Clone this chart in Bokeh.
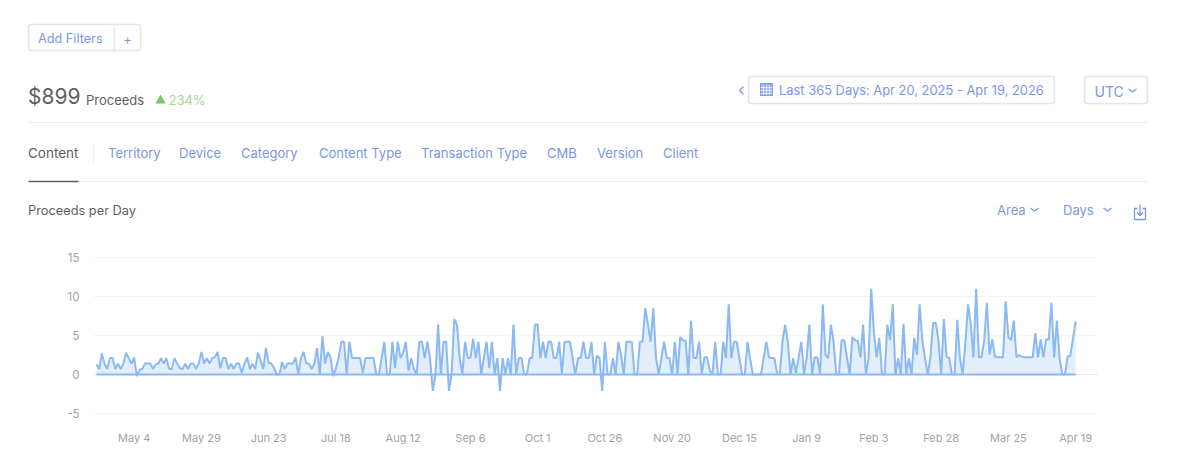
from bokeh.core.properties import value
from bokeh.embed import file_html
from bokeh.models import FixedTicker, LinearAxis, Range1d
from bokeh.plotting import figure
from bokeh.resources import INLINE

# proceeds per day, Apr 20 2025 onwards
spring = [1.3, 0.7, 2.7, 1.4, 0.7, 2.1, 2.1, 0.7, 1.4, 0.7, 1.4, 2.8, 2.1, 1.4, 2.2, -0.2, 0.6, 0.7, 1.4, 1.4,
          1.4, 0.7, 1.3, 1.4, 2.1, 1.4, 2.1, 0.7, 0.7, 2.1, 1.4, 0.8, 0.7, 1.4, 0.7, 1.4, 1.4, 0.7, 1.4, 2.9,
          1.4, 2.1, 1.4, 2.1, 2.2, 2.9, 0.8, 2.1, 2.1, 0.7, 1.4, 0.7, 1.4, 1.4, 0.2, 1.4, 2.2, 0.7, 1.4, 0.7,
          2.8, 1.8, 0.7, 3.4, 1.5, 1.4, 0.8, 0, 0, 1.6, 0.7, 1.4, 1.4, 1.4, 2.2, 0, 2.1, 2.9, 1.4, 1.4,
          0.7, 1.4, 3.4, 0, 4.9]
summer = [1.4, 2.9, 2.2, -0.2, 0.8, 2.1, 4.2, 4.2, 0, 4.2, 2.1, 2.1, 2.1, 2.1, 0.2, 2.1, 2.1, 2.1, 2.1, 0,
          0, 2.1, 4.2, 0, 0, 4.2, 0.8, 4.2, 2.1, 2.8, 4.2, 0.5, 2.1, 0.7, 0, 4.2, 4.2, 2.1, 4.2, 2.1,
          -2.1, -0.2, 6.4, 0, 4.2, 4.2, -2.1, 0, 7.1, 6.4, 2.1, 0, 4.2, 2.1, 2.1, 4.6, 2.1, 4.2, 0, 2.1,
          4.2, 0.8, 4.2, 0, 2.1, -2.1, 2.1, 0, 2.1, 0, 6.4, 0, 2.1, 2.1, 0, 0, 2.1, 2.1, 6.4, 6.4,
          2.1, 4.2, 2.1, 4.2, 4.2, 2.1, 2.1, 4.2, 0, 4.2, 4.2, 4.2, 2.1, 0, 2.1, 2.1, 4.2, 2.1, 2.1]
autumn = [4.2, 0, 2.4, 2.1, -2.1, 4.2, 0, 0, 2.1, 0, 4.2, 2.5, 0, 4.2, 4.2, 4.2, 0, 0, 4.2, 4.2,
          8.5, 6.4, 4.2, 8.5, 2.1, 0, 2.1, 4.2, 2.1, 2.1, 0, 4.2, 0, 4.8, 4.4, 4.3, 0, 6.9, 2.1, 2.1,
          4.2, 0, 2.2, 2.2, 0.5, 0, 4.2, 0, 0, 4.2, 2.1, 9, 2.1, 4.2, 4.2, 2.1, 0, 0, 4.2, 2,
          0, 0, 0, 0, 2.1, 4.2, 2.2, 2.1, 2.1, 0.2, 0, 4.2, 6.4, 4.2, 0, 2.1, 0.2, 2.1, 4.2, 0,
          2.1, 6.4, 0, 2.2, 2.2, 0, 9, 2.5, 2.1, 6.4, 4.2, 0, 0]
winter = [4.4, 4.4, 2.1, 0, 4.8, 4.4, 4.3, 2.2, 6.4, 0, 2, 11, 5.5, 2.2, 4.7, 0, 0, 6.4, 4.4, 9,
          0, 2.1, 0, 6.5, 0, 2.1, 0, 4.7, 2.5, 9, 4.4, 2.1, 0, 2.2, 6.6, 6.6, 4.4, 0, 7.1, 2.3,
          2.1, 0, 0, 7, 2, 0, 4, 9, 6.5, 2.2, 11, 2.2, 2.2, 4.4, 9.2, 2.5, 4.5, 2.3, 2.2, 2.2,
          2.2, 9.4, 4.8, 4.4, 6.9, 2.2, 2.5, 2.3, 2.2, 2.2, 2.2, 2.2, 5.3, 2.2, 4.5, 2.2, 4.5, 4.5, 9.2, 2.2,
          6.9, 2.2, 0, 0, 2.3, 2.4, 4.6, 6.8]
proceeds = spring + summer + autumn + winter
days = list(range(len(proceeds)))
zeros = [0] * len(proceeds)

tick_days = [14, 39, 64, 89, 114, 139, 164, 189, 214, 239, 264, 289, 314, 339, 364]
tick_labels = ["May 4", "May 29", "Jun 23", "Jul 18", "Aug 12", "Sep 6", "Oct 1", "Oct 26",
               "Nov 20", "Dec 15", "Jan 9", "Feb 3", "Feb 28", "Mar 25", "Apr 19"]
value_ticks = [-5, 0, 5, 10, 15]
value_labels = ["-5", "0", "5", "10", "15"]

tab_names = ["Territory", "Device", "Category", "Content Type", "Transaction Type", "CMB", "Version", "Client"]
tab_lefts = [108, 179, 241, 319, 421, 547, 597, 663]

FONT = "Inter"
BLUE = "#7b96e6"
DARK = "#5f5f5f"
RULE = "#eeeeee"
BORDER = "#e3e6ee"
LINE = "#8bb9f2"
FILL = "#e3eefb"

W, H = 1183, 448


def day_at(px):
    return (px - 96) / 2.69


def value_at(py):
    return (374 - py) / 7.8


# one figure filling the page: main ranges for the chart, "px" ranges for the page chrome
p = figure(width=W, height=H, x_range=Range1d(day_at(0), day_at(W)),
           y_range=Range1d(value_at(H), value_at(0)),
           output_backend="svg", toolbar_location=None, min_border=0,
           x_axis_location=None, y_axis_location=None)
p.extra_x_ranges["px"] = Range1d(0, W)
p.extra_y_ranges["px"] = Range1d(H, 0)
p.grid.visible = False
p.outline_line_color = None
PX = dict(x_range_name="px", y_range_name="px")


def text(x, y, s, size=13, color=BLUE, align="left"):
    p.text([x], [y], text=[s], text_font=value(FONT), text_font_size=f"{size}px", text_color=color,
           text_align=align, text_baseline="middle", **PX)


def rule(x0, x1, y0, y1, color=RULE, width=1):
    p.line([x0, x1], [y0, y1], line_color=color, line_width=width, **PX)


def box(left, right, top, bottom):
    p.quad(left=[left], right=[right], top=[top], bottom=[bottom], fill_color="white",
           line_color=BORDER, line_width=1.5, border_radius=3, **PX)


def chevron(x, y, w=4, h=3):
    p.line([x - w, x, x + w], [y - h / 2, y + h / 2, y - h / 2], line_color=BLUE, line_width=1.3, **PX)


box(28, 140, 24, 50)
rule(114, 114, 24, 50, BORDER, 1.5)
text(37.5, 38, "Add Filters", 12.7)
text(127, 38, "+", align="center")

text(27.5, 96, "$899", 21, DARK)
text(85.5, 99, "Proceeds", 13, DARK)
p.scatter([160], [100], marker="triangle", size=9, color="#7fc46c", **PX)
text(168, 99, "234%", 13, "#a5d490")
rule(28, 1147, 122, 122)

text(27.5, 152, "Content", 13.5, DARK)
rule(93, 93, 143, 162)
for left, name in zip(tab_lefts, tab_names):
    text(left - 0.5, 152, name, 13)
rule(28, 1147, 181, 181)
rule(28, 78, 181, 181, DARK, 1.5)
text(27.5, 210, "Proceeds per Day", 12.8, DARK)

p.line([743, 739, 743], [86, 90, 94], line_color=BLUE, line_width=1.3, **PX)
box(748, 1054, 76, 103)
p.quad(left=[760], right=[772], top=[83], bottom=[95], fill_color="#9db1ec", line_color=BLUE, **PX)
for gx in (763, 766, 769):
    rule(gx, gx, 85, 95, "white", 0.7)
for gy in (87, 90, 93):
    rule(760, 772, gy, gy, "white", 0.7)
text(778.5, 90, "Last 365 Days: Apr 20, 2025 - Apr 19, 2026", 12.9)
box(1084, 1147, 76, 103)
text(1094, 91, "UTC", 14)
chevron(1132, 90)

text(996.5, 209.5, "Area")
chevron(1034, 209)
text(1062.5, 209.5, "Days")
chevron(1107, 209)
p.line([1137, 1134, 1134, 1145, 1145, 1142], [208, 208, 219, 219, 208, 208], line_color=BLUE, line_width=1.3, **PX)
p.line([1139.5, 1139.5], [204, 215], line_color=BLUE, line_width=1.3, **PX)
p.line([1136.5, 1139.5, 1142.5], [212, 215, 212], line_color=BLUE, line_width=1.3, **PX)

# the chart
grid_from, grid_to = day_at(93), day_at(1097)
grid_colors = ["#f4f4f4", "#e8e8e8", "#f4f4f4", "#f4f4f4", "#f4f4f4"]
p.segment(x0=[grid_from] * 5, x1=[grid_to] * 5, y0=value_ticks, y1=value_ticks, line_color=grid_colors)

p.varea(days, y1=zeros, y2=proceeds, fill_color=FILL)
p.line(days, zeros, line_color=LINE, line_width=2)
p.line(days, proceeds, line_color=LINE, line_width=2)

xaxis = LinearAxis(fixed_location=-5, ticker=FixedTicker(ticks=tick_days),
                   major_label_overrides=dict(zip(tick_days, tick_labels)), major_label_standoff=11)
yaxis = LinearAxis(fixed_location=grid_from, ticker=FixedTicker(ticks=value_ticks),
                   major_label_overrides=dict(zip(value_ticks, value_labels)), major_label_standoff=8)
for axis, side in ((xaxis, "below"), (yaxis, "left")):
    axis.axis_line_color = None
    axis.major_tick_line_color = None
    axis.minor_tick_line_color = None
    axis.major_label_text_color = "#a3a3a3"
    axis.major_label_text_font = FONT
    axis.major_label_text_font_size = "11.5px"
    p.add_layout(axis, side)
xaxis.major_label_text_font_size = "11px"

open("out.html", "w").write(file_html(p, INLINE))
